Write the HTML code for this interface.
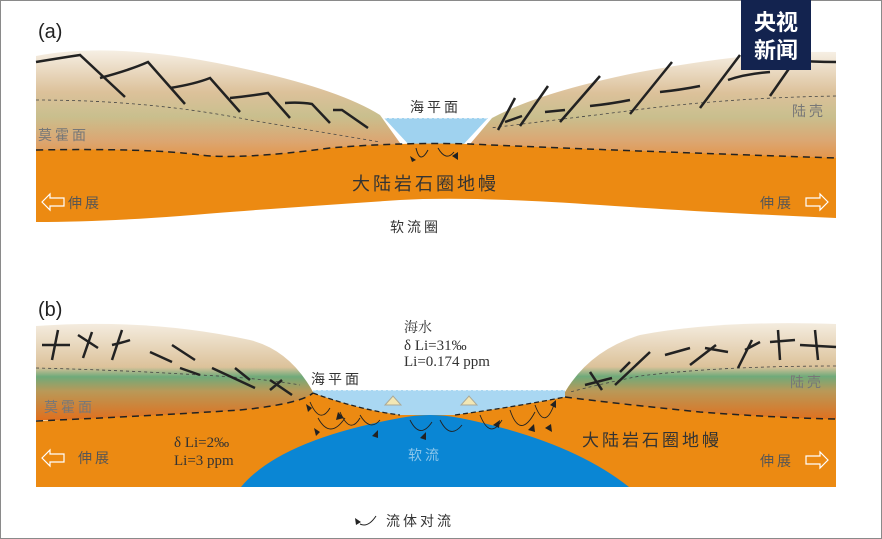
<!DOCTYPE html>
<html><head><meta charset="utf-8"><style>
html,body{margin:0;padding:0;background:#fff}
svg{display:block}
text{font-family:"Liberation Sans","Noto Sans CJK SC",sans-serif}
.cj{font-family:"Noto Sans CJK SC",sans-serif;letter-spacing:3px}
.sr{font-family:"Liberation Serif","Noto Serif CJK SC",serif}
</style></head><body>
<svg width="882" height="539" viewBox="0 0 882 539" xmlns="http://www.w3.org/2000/svg">
<defs>
<linearGradient id="ga" x1="0" y1="0" x2="0" y2="1">
<stop offset="0" stop-color="#f6efe4"/><stop offset="0.35" stop-color="#dcc19a"/>
<stop offset="0.55" stop-color="#c9bf8e"/><stop offset="0.75" stop-color="#dba773"/><stop offset="1" stop-color="#e98a30"/>
</linearGradient>
<linearGradient id="gb" x1="0" y1="0" x2="0" y2="1">
<stop offset="0" stop-color="#f4ecdf"/><stop offset="0.45" stop-color="#dcc29a"/>
<stop offset="0.55" stop-color="#6faa7a"/><stop offset="0.7" stop-color="#b99958"/><stop offset="1" stop-color="#e0701e"/>
</linearGradient>
</defs>
<rect x="0.5" y="0.5" width="881" height="538" fill="#fff" stroke="#8a8a8a"/>

<!-- panel a -->
<text x="38" y="38" font-size="20" fill="#222">(a)</text>
<path d="M36,56 Q120,40 250,70 Q340,90 380,115 L405,150 L405,170 L36,170 Z" fill="url(#ga)"/>
<path d="M836,52 Q760,50 640,72 Q540,92 492,118 L465,150 L465,170 L836,170 Z" fill="url(#ga)"/>
<path d="M384,118 L488,118 L462,146 L410,146 Z" fill="#9fd2ef"/>
<path d="M36,150 Q150,148 200,155 Q240,160 330,148 Q400,142 470,144 Q600,150 836,158 L836,218 Q700,212 600,205 Q470,196 400,200 Q250,210 180,216 Q100,222 36,222 Z" fill="#ec8a12"/>
<path d="M36,150 Q150,148 200,155 Q240,160 330,148 Q400,142 470,144 Q600,150 836,158" fill="none" stroke="#222" stroke-width="1.5" stroke-dasharray="7,5"/>
<path d="M36,100 Q150,100 250,120 L380,142" fill="none" stroke="#444" stroke-width="0.8" stroke-dasharray="3,3"/>
<path d="M836,96 Q720,98 620,112 L490,128" fill="none" stroke="#444" stroke-width="0.8" stroke-dasharray="3,3"/>
<line x1="384" y1="118" x2="488" y2="118" stroke="#fff" stroke-dasharray="3,2"/>
<g stroke="#222" stroke-width="2.5" fill="none">
<path d="M36,62 Q60,58 80,55 L125,97 M100,78 Q130,70 148,62 L185,104 M170,88 Q195,84 210,78 L240,112 M230,98 Q250,96 268,93 L290,118 M285,103 Q300,102 312,104 L330,123 M333,110 L342,110 L368,128"/>
<path d="M836,62 Q812,62 790,60 M795,60 L770,96 M770,72 Q745,74 728,80 M740,55 L700,108 M700,86 Q680,90 660,92 M672,62 L630,114 M630,100 Q610,104 590,106 M600,76 L560,122 M565,110 L545,112 M548,86 L520,126 M522,116 L505,122 M515,98 L498,130"/>
</g>
<text x="410" y="112" font-size="14" fill="#333" class="cj">海平面</text>
<text x="792" y="116" font-size="14" fill="#777" class="cj">陆壳</text>
<text x="38" y="140" font-size="14" fill="#777" class="cj">莫霍面</text>
<text x="352" y="190" font-size="18" fill="#333" class="cj">大陆岩石圈地幔</text>
<text x="68" y="208" font-size="14" fill="#555" class="cj">伸展</text>
<text x="760" y="208" font-size="14" fill="#555" class="cj">伸展</text>
<text x="390" y="232" font-size="14" fill="#333" class="cj">软流圈</text>
<path d="M42,202 L50,194 L50,198 L64,198 L64,206 L50,206 L50,210 Z" fill="none" stroke="#fff" stroke-width="1.2"/>
<path d="M828,202 L820,194 L820,198 L806,198 L806,206 L820,206 L820,210 Z" fill="none" stroke="#fff" stroke-width="1.2"/>
<g stroke="#222" fill="none" stroke-width="1"><path d="M416,148 Q420,165 428,150 M438,148 Q446,162 454,152"/></g>
<path d="M410,156 L416,160 L412,162Z M452,156 L458,152 L458,160Z" fill="#222"/>

<!-- panel b -->
<text x="38" y="316" font-size="20" fill="#222">(b)</text>
<path d="M36,326 Q150,318 250,340 Q290,350 313,392 L313,420 L36,420 Z" fill="url(#gb)"/>
<path d="M836,324 Q720,320 640,335 Q590,350 565,392 L565,420 L836,420 Z" fill="url(#gb)"/>
<rect x="313" y="390" width="252" height="25" fill="#a9d7f2"/>
<line x1="313" y1="390" x2="565" y2="390" stroke="#fff" stroke-dasharray="3,2"/>
<path d="M36,421 Q150,416 240,410 Q300,404 313,393 Q360,410 400,415 L455,415 Q520,406 565,397 Q620,404 700,412 Q780,418 836,419 L836,487 L36,487 Z" fill="#ec8a12"/>
<path d="M36,421 Q150,416 240,410 Q300,404 313,393 M565,397 Q620,404 700,412 Q780,418 836,419" fill="none" stroke="#222" stroke-width="1.5" stroke-dasharray="7,5"/>
<path d="M241,487 Q280,440 400,418 Q430,412 460,418 Q570,440 629,487 Z" fill="#0a86d4"/>
<path d="M36,368 Q120,370 200,375 Q260,378 300,385 M836,366 Q720,366 640,376 Q600,384 570,392" fill="none" stroke="#444" stroke-width="0.8" stroke-dasharray="3,3"/>
<path d="M313,393 Q360,410 400,415 M455,415 Q520,406 565,397" fill="none" stroke="#222" stroke-width="1.3" stroke-dasharray="5,3"/>
<path d="M385,405 L393,396 L401,405 Z M461,405 L469,396 L477,405 Z" fill="#f3e7b4" stroke="#aa9" />
<g stroke="#222" stroke-width="2.5" fill="none">
<path d="M42,345 L70,345 M58,330 L52,360 M78,335 L98,348 M92,332 L83,358 M112,345 Q125,342 130,340 M122,330 L112,360 M150,352 L172,362 M172,345 L195,360 M180,368 L200,375 M212,368 L255,388 M235,368 L250,380 M270,380 L292,395 M282,380 L270,390"/>
<path d="M836,347 L800,345 M815,330 L818,360 M795,340 L770,342 M778,330 L780,360 M760,342 L745,350 M752,340 L738,368 M728,352 L705,348 M716,345 L690,365 M690,348 L665,355 M630,362 L620,372 M650,352 L615,385 M612,378 L585,385 M590,372 L602,390"/>
</g>
<g stroke="#222" stroke-width="0.9" fill="none">
<path d="M310,402 Q320,425 330,408 M318,418 Q330,440 345,418 M340,412 Q350,435 360,418 M360,415 Q370,432 380,420 M410,420 Q420,440 432,422 M440,420 Q450,440 462,425 M480,415 Q490,440 502,420 M510,410 Q520,440 535,412 M535,405 Q545,432 555,402"/>
</g>
<path d="M306,404 L312,408 L308,412Z M314,428 L320,432 L316,436Z M338,412 L344,418 L336,420Z M372,436 L378,430 L378,438Z M420,438 L426,432 L426,440Z M493,425 L500,420 L499,428Z M528,430 L534,424 L535,432Z M550,405 L556,400 L556,408Z M545,428 L551,424 L552,432Z" fill="#222"/>
<text x="404" y="332" font-size="14" fill="#333" class="sr">海水</text>
<text x="404" y="350" font-size="15" fill="#333" class="sr">δ Li=31‰</text>
<text x="404" y="366" font-size="15" fill="#333" class="sr">Li=0.174 ppm</text>
<text x="311" y="384" font-size="14" fill="#333" class="cj">海平面</text>
<text x="790" y="387" font-size="14" fill="#777" class="cj">陆壳</text>
<text x="44" y="412" font-size="14" fill="#777" class="cj">莫霍面</text>
<text x="174" y="447" font-size="15" fill="#333" class="sr">δ Li=2‰</text>
<text x="174" y="465" font-size="15" fill="#333" class="sr">Li=3 ppm</text>
<text x="582" y="446" font-size="17" fill="#333" class="cj">大陆岩石圈地幔</text>
<text x="408" y="460" font-size="14" fill="#8cc6ea" class="cj">软流</text>
<text x="78" y="463" font-size="14" fill="#555" class="cj">伸展</text>
<text x="760" y="466" font-size="14" fill="#555" class="cj">伸展</text>
<path d="M42,458 L50,450 L50,454 L64,454 L64,462 L50,462 L50,466 Z" fill="none" stroke="#fff" stroke-width="1.2"/>
<path d="M828,460 L820,452 L820,456 L806,456 L806,464 L820,464 L820,468 Z" fill="none" stroke="#fff" stroke-width="1.2"/>
<path d="M355,518 L361,522 L356,525Z" fill="#222"/>
<path d="M360,524 Q368,528 376,516" fill="none" stroke="#222"/>
<text x="386" y="526" font-size="14" fill="#333" class="cj">流体对流</text>

<!-- logo -->
<rect x="741" y="0" width="70" height="70" fill="#13234f"/>
<text x="776" y="30" font-size="22" fill="#fff" text-anchor="middle" font-weight="bold" font-family="Noto Sans CJK SC,sans-serif">央视</text>
<text x="776" y="58" font-size="22" fill="#fff" text-anchor="middle" font-weight="bold" font-family="Noto Sans CJK SC,sans-serif">新闻</text>
</svg>
</body></html>
